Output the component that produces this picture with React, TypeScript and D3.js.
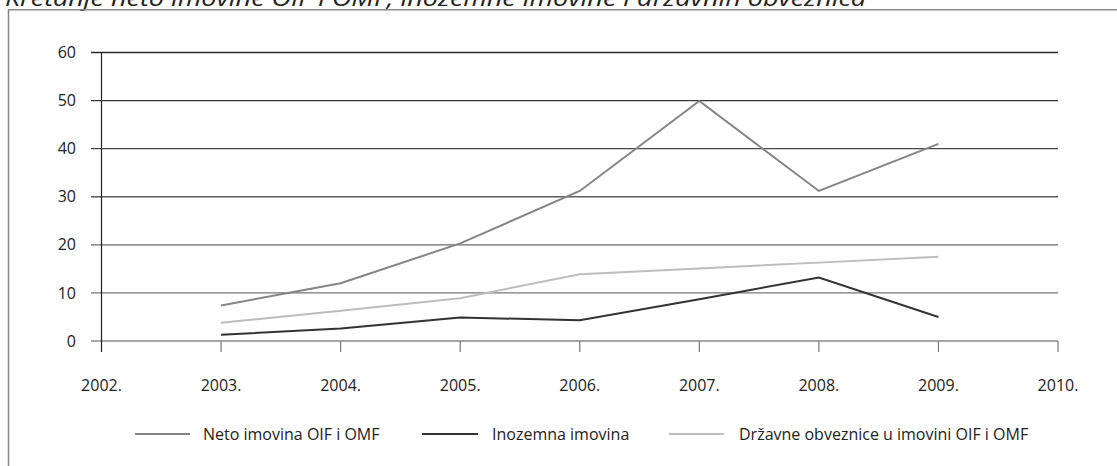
import React from "react";
import * as d3 from "d3";

const years = [2003, 2004, 2005, 2006, 2007, 2008, 2009];
const xTickYears = [2002, 2003, 2004, 2005, 2006, 2007, 2008, 2009, 2010];
const yTicks = [0, 10, 20, 30, 40, 50, 60];
const netoImovina = [7.4, 12.0, 20.3, 31.2, 49.9, 31.2, 41.0];
const inozemnaImovina = [1.3, 2.6, 4.9, 4.3, 8.7, 13.2, 5.0];
const drzavneObveznice = [3.8, 6.3, 8.9, 13.9, 15.1, 16.3, 17.5];
const seriesNames = ["Neto imovina OIF i OMF", "Inozemna imovina", "Državne obveznice u imovini OIF i OMF"];
const seriesColors = ["#858585", "#333333", "#bdbdbd"];
const gridColors = ["#8a8a8a", "#777777", "#6a6a6a", "#5a5a5a", "#484848", "#363636", "#2a2a2a"];
const title = "Kretanje neto imovine OIF i OMF, inozemne imovine i državnih obveznica";

export default function App() {
  const W = 1117, H = 466;
  const x = d3.scaleLinear().domain([2002, 2010]).range([101.5, 1058]);
  const y = d3.scaleLinear().domain([0, 60]).range([341, 52.5]);
  const line = d3.line<number>().x((_, i) => x(years[i])).y(d => y(d));
  const allSeries = [netoImovina, inozemnaImovina, drzavneObveznice];
  const font = "'Open Sans', 'Noto Sans', sans-serif";
  const legendLines = [[135, 190, 203], [422, 478, 492], [669, 724, 739]];
  const fs = 16;

  return (
    <svg width={W} height={H} style={{ position: "absolute", left: 0, top: 0, background: "#fff" }} fontFamily={font}>
      <text x={5} y={6} fontSize={21} fontStyle="italic" fill="#222" textLength={861} lengthAdjust="spacingAndGlyphs">{title}</text>
      {/* frame */}
      <path d={`M8.5,${H + 2} V9.75 H${W + 2}`} fill="none" stroke="#888" strokeWidth={1.5} />
      {/* grid lines */}
      {yTicks.map((t, i) => (
        <g key={t}>
          <line x1={91} x2={1058} y1={y(t)} y2={y(t)} stroke={gridColors[i]} strokeWidth={1.3} />
          <text x={76} y={y(t)} dy="0.35em" textAnchor="end" fontSize={fs} fill="#222">{t}</text>
        </g>
      ))}
      {/* y axis */}
      <line x1={x(2002)} x2={x(2002)} y1={y(60)} y2={352} stroke="#222" strokeWidth={1.2} />
      {/* x ticks */}
      {xTickYears.map(yr => (
        <g key={yr}>
          {yr !== 2002 && <line x1={x(yr)} x2={x(yr)} y1={y(0)} y2={352} stroke="#777" strokeWidth={1.2} />}
          <text x={x(yr)} y={385} dy="0.35em" textAnchor="middle" fontSize={fs} fill="#222">{yr}.</text>
        </g>
      ))}
      {/* series */}
      {allSeries.map((s, i) => (
        <path key={i} d={line(s) || ""} fill="none" stroke={seriesColors[i]} strokeWidth={2} strokeLinejoin="miter" />
      ))}
      {/* legend */}
      {seriesNames.map((n, i) => (
        <g key={n}>
          <line x1={legendLines[i][0]} x2={legendLines[i][1]} y1={434} y2={434} stroke={seriesColors[i]} strokeWidth={2} />
          <text x={legendLines[i][2]} y={434} dy="0.35em" fontSize={fs} fill="#222">{n}</text>
        </g>
      ))}
    </svg>
  );
}
